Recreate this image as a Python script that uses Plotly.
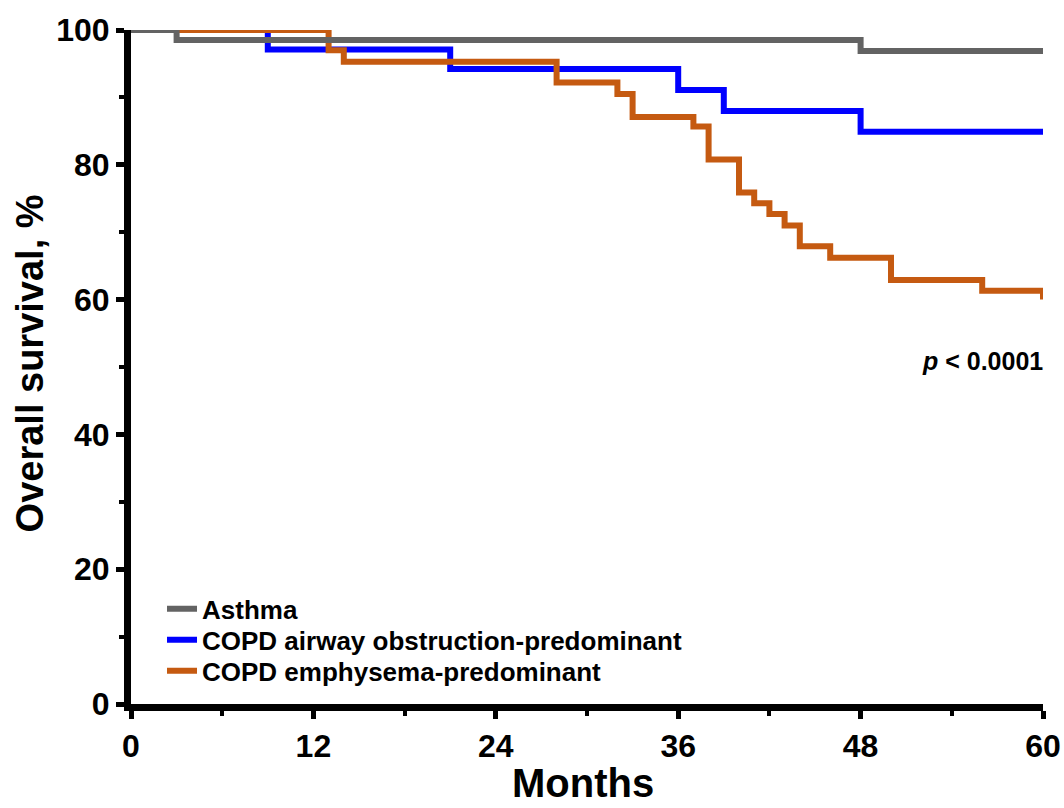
import plotly.graph_objects as go

# Kaplan-Meier step data (months, survival %)
asthma_t = [0, 3, 48, 60]
asthma_s = [100, 98.5, 96.9, 96.9]

airway_t = [0, 9, 21, 36, 39, 48, 60]
airway_s = [100, 97.1, 94.2, 91.1, 88.0, 84.9, 84.9]

emph_t = [0, 13, 14, 28, 32, 33, 37, 38, 40, 41, 42, 43, 44, 46, 50, 56, 60]
emph_s = [100, 97.0, 95.3, 92.2, 90.5, 87.1, 85.7, 80.8, 75.9, 74.3, 72.7, 71.0, 67.9, 66.2, 62.9, 61.3, 60.0]

x_ticks = [0, 12, 24, 36, 48, 60]
y_ticks = [0, 20, 40, 60, 80, 100]

FONT = "Liberation Sans, Arial, sans-serif"

fig = go.Figure()
fig.add_trace(go.Scatter(x=airway_t, y=airway_s, mode="lines", line_shape="hv",
                         line=dict(color="#0000FF", width=6),
                         name="COPD airway obstruction-predominant", legend="legend2"))
fig.add_trace(go.Scatter(x=emph_t, y=emph_s, mode="lines", line_shape="hv",
                         line=dict(color="#C55A11", width=6),
                         name="COPD emphysema-predominant", legend="legend3"))
fig.add_trace(go.Scatter(x=asthma_t, y=asthma_s, mode="lines", line_shape="hv",
                         line=dict(color="#636363", width=6),
                         name="Asthma", legend="legend"))

axis_common = dict(
    showgrid=False, zeroline=False, showline=True, linecolor="black", linewidth=7,
    ticks="outside", ticklen=8, tickwidth=5, tickcolor="black", automargin=False,
    tickfont=dict(family=FONT, size=32, color="black", weight=700),
)

fig.update_xaxes(range=[0, 60], tickvals=x_ticks, ticktext=[str(v) for v in x_ticks],
                 minor=dict(dtick=6, tick0=0, ticks="outside", ticklen=5, tickwidth=4, tickcolor="black"),
                 **axis_common)
fig.update_yaxes(range=[0, 100], tickvals=y_ticks, ticktext=[str(v) for v in y_ticks],
                 minor=dict(dtick=10, tick0=0, ticks="outside", ticklen=5, tickwidth=4, tickcolor="black"),
                 **axis_common)

fig.add_annotation(text="Overall survival, %", xref="paper", yref="paper",
                   x=-0.111, y=0.505, xanchor="center", yanchor="middle", textangle=-90,
                   showarrow=False, font=dict(family=FONT, size=38, color="black", weight=700))
fig.add_annotation(text="Months", xref="paper", yref="paper",
                   x=0.496, y=-0.1535, xanchor="center", yanchor="bottom",
                   showarrow=False, font=dict(family=FONT, size=40, color="black", weight=700))
fig.add_annotation(text="<i>p</i> &lt; 0.0001", xref="paper", yref="paper",
                   x=1.002, y=0.533, xanchor="right", yanchor="top",
                   showarrow=False, font=dict(family=FONT, size=25, color="black", weight=700))

leg_font = dict(family=FONT, size=26, color="black", weight=700)
leg_common = dict(x=0.034, xanchor="left", yanchor="middle", bgcolor="rgba(0,0,0,0)",
                  borderwidth=0, font=leg_font)

fig.update_layout(
    width=1064, height=808,
    margin=dict(l=131, r=21, t=30, b=104),
    paper_bgcolor="white", plot_bgcolor="white",
    showlegend=True,
    legend=dict(y=0.141, **leg_common),
    legend2=dict(y=0.095, **leg_common),
    legend3=dict(y=0.049, **leg_common),
)

fig.write_html("out.html")
